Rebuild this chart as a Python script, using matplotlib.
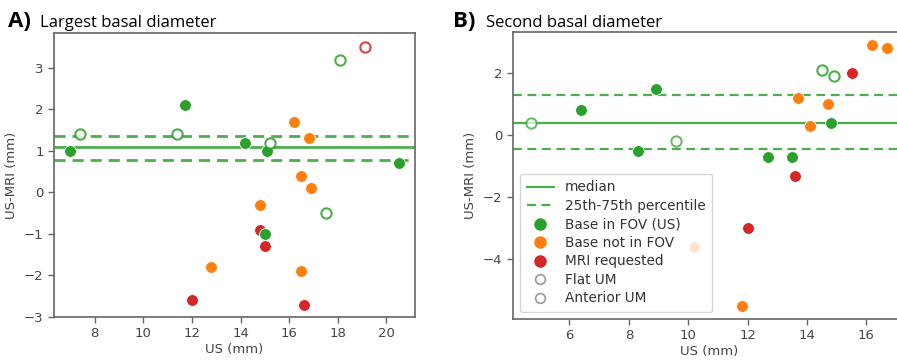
import matplotlib
matplotlib.use("Agg")
import matplotlib.pyplot as plt
from matplotlib.lines import Line2D

# ---------------- data ----------------
# Panel A: Largest basal diameter
a_us = [7.0, 7.4, 11.4, 11.7, 14.2, 15.1, 15.2, 16.2, 16.8, 18.1, 19.1, 20.5,
        16.5, 16.9, 14.8, 17.5, 14.8, 15.0, 15.0, 12.8, 16.5, 12.0, 16.6]
a_diff = [1.0, 1.4, 1.4, 2.1, 1.2, 1.0, 1.2, 1.7, 1.3, 3.2, 3.5, 0.7,
          0.4, 0.1, -0.3, -0.5, -0.9, -1.0, -1.3, -1.8, -1.9, -2.6, -2.7]
a_group = ['fov', 'fov', 'fov', 'fov', 'fov', 'fov', 'fov', 'nofov', 'nofov', 'fov', 'mri', 'fov',
           'nofov', 'nofov', 'nofov', 'fov', 'mri', 'fov', 'mri', 'nofov', 'nofov', 'mri', 'mri']
a_shape = ['', 'flat', 'flat', '', '', '', 'flat', '', '', 'flat', 'flat', '',
           '', '', '', 'flat', '', '', '', '', '', '', '']
a_median = 1.10
a_q25, a_q75 = 0.78, 1.35

# Panel B: Second basal diameter
b_us = [4.7, 6.4, 8.9, 8.3, 9.6, 12.7, 13.5, 13.6, 13.7, 14.1, 14.5, 14.9,
        14.7, 14.8, 15.5, 16.2, 16.7, 12.0, 10.2, 11.8]
b_diff = [0.4, 0.8, 1.5, -0.5, -0.2, -0.7, -0.7, -1.3, 1.2, 0.3, 2.1, 1.9,
          1.0, 0.4, 2.0, 2.9, 2.8, -3.0, -3.6, -5.5]
b_group = ['fov', 'fov', 'fov', 'fov', 'fov', 'fov', 'fov', 'mri', 'nofov', 'nofov', 'fov', 'fov',
           'nofov', 'fov', 'mri', 'nofov', 'nofov', 'mri', 'nofov', 'nofov']
b_shape = ['anterior', '', '', '', 'anterior', '', '', '', '', '', 'flat', 'flat',
           '', '', '', '', '', '', '', '']
b_median = 0.38
b_q25, b_q75 = -0.45, 1.30

colors = {'fov': '#2ca02c', 'nofov': '#ff7f0e', 'mri': '#d62728'}
line_color = '#2ca02c'
spine_color = '#666666'

fig = plt.figure(figsize=(8.97, 3.64), dpi=100)
axA = fig.add_axes([54/897, 1-317/364, 361/897, 284/364])
axB = fig.add_axes([513/897, 1-319/364, 392/897, 287/364])


def draw(ax, xs, ys, groups, shapes, med, q25, q75, lw):
    ax.axhline(med, color=line_color, lw=lw, alpha=0.85, zorder=1)
    ax.axhline(q25, color=line_color, lw=lw, ls=(0, (4, 2.5)), alpha=0.85, zorder=1)
    ax.axhline(q75, color=line_color, lw=lw, ls=(0, (4, 2.5)), alpha=0.85, zorder=1)
    for order in ['nofov', 'mri', 'fov']:
        for x, y, g, s in zip(xs, ys, groups, shapes):
            if g != order:
                continue
            c = colors[g]
            if s == '':
                ax.scatter([x], [y], s=72, color=c, edgecolors='white', linewidths=0.6, zorder=3)
            else:
                al = 0.7 if s == 'anterior' else 0.85
                ax.scatter([x], [y], s=55, facecolors='white', edgecolors=c,
                           linewidths=1.5, alpha=al, zorder=3)
    for sp in ax.spines.values():
        sp.set_color(spine_color)
        sp.set_linewidth(1.2)
    ax.tick_params(colors='#444444', labelsize=9.5, length=4, width=1, color=spine_color)
    ax.set_xlabel('US (mm)', fontsize=9.5, color='#444444', labelpad=2)
    ax.set_ylabel('US-MRI (mm)', fontsize=9.5, color='#444444', labelpad=4)


draw(axA, a_us, a_diff, a_group, a_shape, a_median, a_q25, a_q75, 2.0)
draw(axB, b_us, b_diff, b_group, b_shape, b_median, b_q25, b_q75, 1.6)

axA.set_xticks([8, 10, 12, 14, 16, 18, 20])
axA.set_yticks([-3, -2, -1, 0, 1, 2, 3])
axA.set_ylim(-3.0, 3.84)
axB.set_xticks([6, 8, 10, 12, 14, 16])
axB.set_yticks([-4, -2, 0, 2])

handles = [
    Line2D([0], [0], color=line_color, lw=1.6, alpha=0.85),
    Line2D([0], [0], color=line_color, lw=1.6, ls=(0, (4, 2.5)), alpha=0.85),
    Line2D([0], [0], marker='o', ls='', color=colors['fov'], markersize=8),
    Line2D([0], [0], marker='o', ls='', color=colors['nofov'], markersize=8),
    Line2D([0], [0], marker='o', ls='', color=colors['mri'], markersize=8),
    Line2D([0], [0], marker='o', ls='', markerfacecolor='white', markeredgecolor='#999999',
           markeredgewidth=1.2, markersize=7),
    Line2D([0], [0], marker='o', ls='', markerfacecolor='white', markeredgecolor='#999999',
           markeredgewidth=1.2, markersize=7),
]
labels = ['median', '25th-75th percentile', 'Base in FOV (US)', 'Base not in FOV',
          'MRI requested', 'Flat UM', 'Anterior UM']
leg = axB.legend(handles, labels, loc='lower left', fontsize=9.8, framealpha=0.8,
                 handlelength=2.0, labelspacing=0.33, borderpad=0.5,
                 bbox_to_anchor=(0.0, 0.0))
for t in leg.get_texts():
    t.set_color('#333333')
leg.set_zorder(5)

tfont = ['Open Sans', 'DejaVu Sans']
fig.text(8/897, 1-27/364, 'A)', fontsize=16, fontweight='bold', family=tfont, va='baseline')
fig.text(40/897, 1-27/364, 'Largest basal diameter', fontsize=12, family=tfont, va='baseline')
fig.text(453/897, 1-27/364, 'B)', fontsize=16, fontweight='bold', family=tfont, va='baseline')
fig.text(486/897, 1-27/364, 'Second basal diameter', fontsize=12, family=tfont, va='baseline')

fig.savefig('out.png', dpi=100)
